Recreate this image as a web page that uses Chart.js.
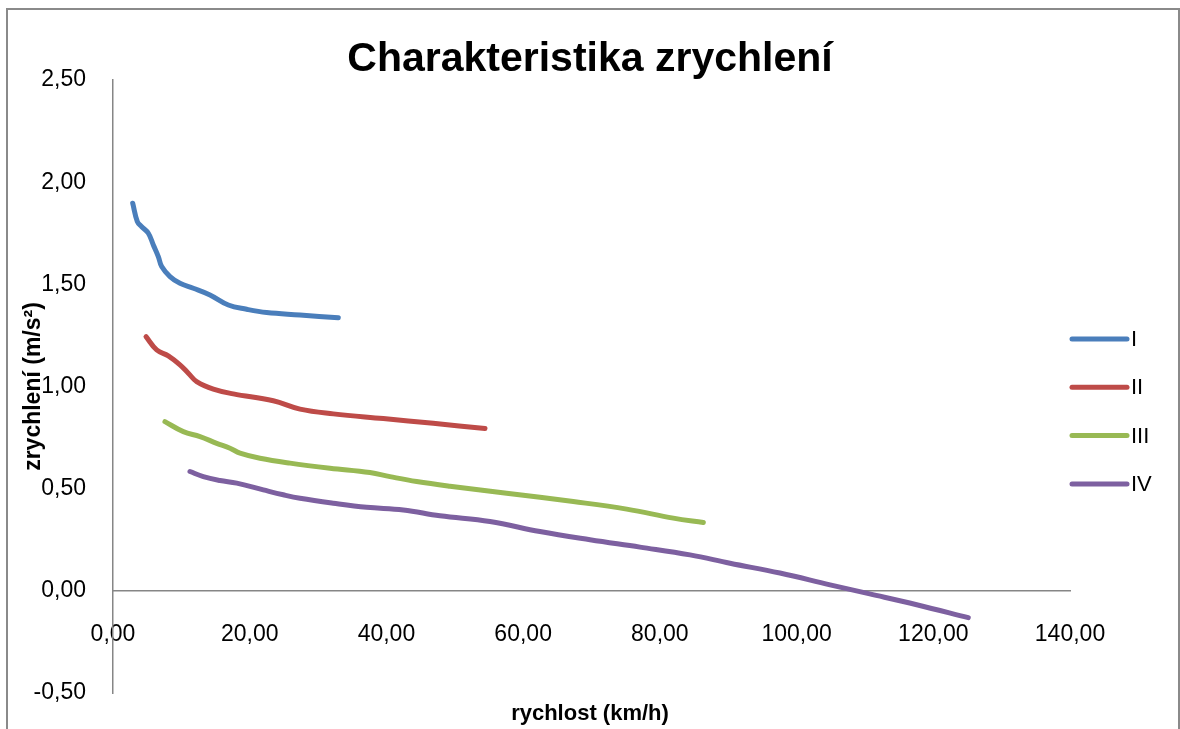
<!DOCTYPE html>
<html lang="cs">
<head>
    <meta charset="UTF-8">
    <title>Charakteristika zrychlení</title>
    <script src="https://cdn.jsdelivr.net/npm/chart.js"></script>
    <style>
        html, body {
            margin: 0;
            padding: 0;
            background: #ffffff;
            overflow: hidden;
        }
        .wrap {
            position: relative;
            width: 1180px;
            height: 729px;
        }
        .frame {
            position: absolute;
            left: 6px;
            top: 8px;
            width: 1170px;
            height: 760px;
            border: 2px solid #8a8a8a;
            pointer-events: none;
        }
        canvas {
            position: absolute;
            left: 0;
            top: 0;
        }
    </style>
</head>
<body>
    <div class="wrap">
        <canvas id="chart" width="1180" height="729"></canvas>
        <div class="frame"></div>
    </div>

    <script>
        // data: [rychlost km/h, zrychlení m/s2]
        const seriesNames = ['I', 'II', 'III', 'IV'];
        const seriesColors = ['#4A7EBB', '#BE4B48', '#98B954', '#7D60A0'];

        const gearI = [
            [2.88, 1.897], [3.56, 1.807], [4.20, 1.782], [5.17, 1.750], [5.90, 1.693],
            [6.63, 1.636], [7.12, 1.587], [8.34, 1.538], [9.80, 1.505], [11.75, 1.481],
            [14.19, 1.448], [16.87, 1.399], [19.56, 1.378], [22.48, 1.362], [27.36, 1.350],
            [32.96, 1.336]
        ];
        const gearII = [
            [4.83, 1.244], [6.39, 1.179], [8.09, 1.150], [9.80, 1.106], [11.02, 1.065],
            [12.24, 1.024], [14.68, 0.987], [17.60, 0.964], [23.45, 0.930], [27.36, 0.889],
            [32.23, 0.866], [39.54, 0.843], [46.85, 0.820], [54.42, 0.794]
        ];
        const gearIII = [
            [7.60, 0.828], [10.29, 0.779], [12.73, 0.755], [15.17, 0.722], [17.12, 0.698],
            [18.58, 0.674], [21.50, 0.649], [25.89, 0.625], [31.74, 0.600], [37.59, 0.579],
            [40.52, 0.559], [44.42, 0.535], [49.30, 0.512], [57.59, 0.478], [67.34, 0.437],
            [75.15, 0.400], [81.97, 0.356], [86.36, 0.334]
        ];
        const gearIV = [
            [11.26, 0.584], [13.21, 0.559], [15.65, 0.540], [18.10, 0.527], [21.99, 0.494],
            [24.91, 0.470], [27.36, 0.453], [32.23, 0.429], [37.11, 0.409], [42.47, 0.396],
            [47.83, 0.367], [55.15, 0.339], [62.46, 0.290], [69.78, 0.250], [77.09, 0.214],
            [84.41, 0.176], [90.26, 0.135], [97.57, 0.087], [104.90, 0.029], [110.70, -0.015],
            [117.57, -0.068], [125.12, -0.131]
        ];

        const xTicks = { min: 0, max: 140, step: 20 };
        const yTicks = { min: -0.5, max: 2.5, step: 0.5 };

        const allSeries = [gearI, gearII, gearIII, gearIV];

        const fontName = "'Liberation Sans', Arial, sans-serif";

        function czNumber(v) {
            return Number(v).toFixed(2).replace('.', ',');
        }

        // legenda vpravo (cara + text), kreslena primo na canvas
        const sideLegend = {
            id: 'sideLegend',
            afterDraw(chart, args, opts) {
                const ctx = chart.ctx;
                const x0 = chart.chartArea.right + opts.gap;
                ctx.save();
                chart.data.datasets.forEach(function(ds, i) {
                    const y = opts.top + i * opts.rowHeight;
                    ctx.beginPath();
                    ctx.lineCap = 'round';
                    ctx.lineWidth = ds.borderWidth;
                    ctx.strokeStyle = ds.borderColor;
                    ctx.moveTo(x0, y);
                    ctx.lineTo(x0 + opts.lineLength, y);
                    ctx.stroke();
                    ctx.fillStyle = '#000';
                    ctx.font = opts.font;
                    ctx.textBaseline = 'middle';
                    ctx.textAlign = 'left';
                    ctx.fillText(ds.label, x0 + opts.lineLength + 4, y + 1);
                });
                ctx.restore();
            }
        };

        const datasets = allSeries.map(function(points, i) {
            return {
                label: seriesNames[i],
                data: points.map(function(p) { return { x: p[0], y: p[1] }; }),
                borderColor: seriesColors[i],
                backgroundColor: seriesColors[i],
                borderWidth: 5,
                borderCapStyle: 'round',
                borderJoinStyle: 'round',
                showLine: true,
                tension: 0.4,
                pointRadius: 0,
                pointHoverRadius: 0
            };
        });

        const chart = new Chart(document.getElementById('chart'), {
            type: 'scatter',
            data: { datasets: datasets },
            plugins: [sideLegend],
            options: {
                responsive: false,
                animation: false,
                layout: {
                    padding: 0
                },
                scales: {
                    x: {
                        type: 'linear',
                        position: { y: 0 },
                        min: xTicks.min,
                        max: xTicks.max,
                        grid: { drawOnChartArea: false, drawTicks: false },
                        border: { display: true, color: '#868686', width: 1.5 },
                        ticks: {
                            stepSize: xTicks.step,
                            padding: 30,
                            color: '#000',
                            font: { family: fontName, size: 23 },
                            callback: function(v) { return czNumber(v); }
                        }
                    },
                    y: {
                        type: 'linear',
                        position: 'left',
                        min: yTicks.min,
                        max: yTicks.max,
                        grid: { drawOnChartArea: false, drawTicks: false },
                        border: { display: true, color: '#868686', width: 1.5 },
                        ticks: {
                            stepSize: yTicks.step,
                            padding: 27,
                            color: '#000',
                            font: { family: fontName, size: 23 },
                            callback: function(v) { return czNumber(v); }
                        },
                        title: {
                            display: true,
                            text: 'zrychlení (m/s²)',
                            color: '#000',
                            padding: { top: 20, bottom: 0 },
                            font: { family: fontName, size: 23, weight: 'bold', lineHeight: 1.2 }
                        },
                        afterFit: function(scale) {
                            scale.width = 113;
                            // jen pulka popisku nahore a dole, ne cely odstup
                            scale.paddingTop = 14;
                            scale.paddingBottom = 14;
                        }
                    },
                    // prazdne misto vpravo pro legendu
                    legendSpace: {
                        type: 'linear',
                        position: 'right',
                        grid: { display: false, drawTicks: false },
                        border: { display: false },
                        ticks: { display: false },
                        afterFit: function(scale) {
                            scale.width = 110;
                        }
                    }
                },
                plugins: {
                    legend: { display: false },
                    tooltip: { enabled: false },
                    title: {
                        display: true,
                        text: 'Charakteristika zrychlení',
                        color: '#000',
                        padding: { top: 39, bottom: 0 },
                        font: { family: fontName, size: 41, weight: 'bold', lineHeight: 1 }
                    },
                    subtitle: {
                        display: true,
                        position: 'bottom',
                        text: 'rychlost (km/h)',
                        color: '#000',
                        padding: { top: 10, bottom: 4 },
                        font: { family: fontName, size: 22, weight: 'bold', lineHeight: 1 }
                    },
                    sideLegend: {
                        gap: 2,
                        lineLength: 55,
                        top: 339,
                        rowHeight: 48.3,
                        font: '22px ' + fontName
                    }
                }
            }
        });
    </script>
</body>
</html>
